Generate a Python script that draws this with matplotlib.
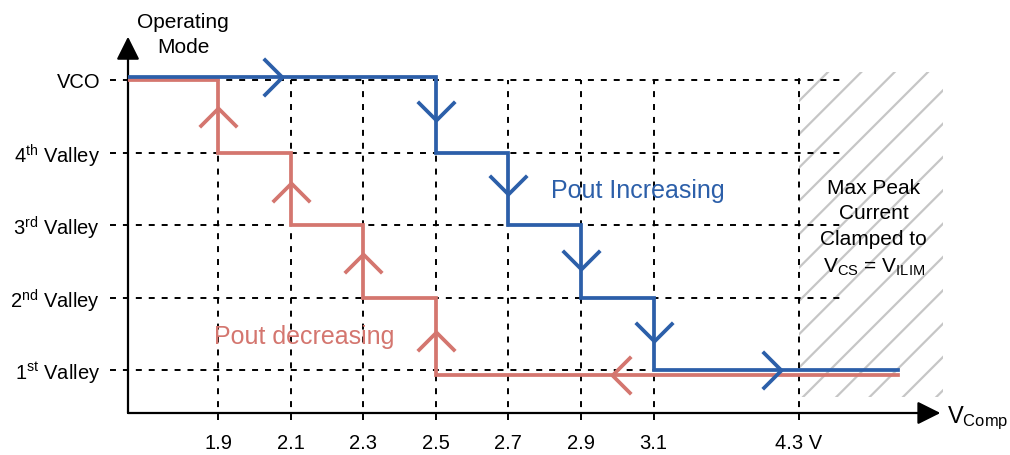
import matplotlib
matplotlib.use("Agg")
import matplotlib.pyplot as plt
from matplotlib.path import Path
from matplotlib.patches import Rectangle

plt.rcParams["font.family"] = ["Liberation Sans", "DejaVu Sans"]
plt.rcParams["mathtext.fontset"] = "custom"
plt.rcParams["mathtext.rm"] = "Liberation Sans"
plt.rcParams["mathtext.it"] = "Liberation Sans:italic"
plt.rcParams["mathtext.bf"] = "Liberation Sans:bold"
plt.rcParams["hatch.linewidth"] = 1.6
plt.rcParams["lines.scale_dashes"] = False

MODE_LABELS = [
    r"1$^{\mathrm{st}}$ Valley",
    r"2$^{\mathrm{nd}}$ Valley",
    r"3$^{\mathrm{rd}}$ Valley",
    r"4$^{\mathrm{th}}$ Valley",
    "VCO",
]
VCOMP_TICKS = [1.9, 2.1, 2.3, 2.5, 2.7, 2.9, 3.1, 4.3]
VCOMP_LABELS = ["1.9", "2.1", "2.3", "2.5", "2.7", "2.9", "3.1", "4.3 V"]
CLAMP_V = 4.3
# Vcomp at which the mode changes, and the mode reached (left to right)
INC_SWITCH_V = [2.5, 2.7, 2.9, 3.1]   # Pout increasing
DEC_SWITCH_V = [1.9, 2.1, 2.3, 2.5]   # Pout decreasing
MODE_AFTER_SWITCH = [4, 3, 2, 1]

BLUE = "#2c5fa9"
RED = "#d4766f"
GRAY_HATCH = "#c6c6c6"

X0, Y0 = -0.24, 0.41      # axis origin (data units)
X_END = 10.37             # where the step lines stop
TOP = len(MODE_LABELS)

CHEVRONS = {
    "r": Path([(-1, 1), (0, 0), (-1, -1)]),
    "l": Path([(1, 1), (0, 0), (1, -1)]),
    "u": Path([(-1, -1), (0, 0), (1, -1)]),
    "d": Path([(-1, 1), (0, 0), (1, 1)]),
}


def xpos(v):
    # broken axis: equal slots for 1.9..3.1, one empty slot before the clamp
    i = VCOMP_TICKS.index(v) + 1
    return i + 1 if v == CLAMP_V else i


def step_path(switch_v):
    xs, ys = [X0], [TOP]
    for v, m in zip(switch_v, MODE_AFTER_SWITCH):
        x = xpos(v)
        xs += [x, x]
        ys += [ys[-1], m]
    xs.append(X_END)
    ys.append(ys[-1])
    return xs, ys


def chevron(ax, p0, p1, frac, color):
    x = p0[0] + frac * (p1[0] - p0[0])
    y = p0[1] + frac * (p1[1] - p0[1])
    dx, dy = p1[0] - p0[0], p1[1] - p0[1]
    if dx > 0:
        key = "r"
    elif dx < 0:
        key = "l"
    elif dy > 0:
        key = "u"
    else:
        key = "d"
    ax.plot([x], [y], marker=CHEVRONS[key], ms=27, mfc="none", mec=color,
            mew=2.7, ls="none", zorder=6)


fig = plt.figure(figsize=(10.1, 4.55), dpi=100)
ax = fig.add_axes([128 / 1010, 42 / 455, 882 / 1010, 413 / 455])
ax.set_xlim(X0, X0 + 882 / 72.6)
ax.set_ylim(Y0, Y0 + 413 / 72.5)
for s in ax.spines.values():
    s.set_visible(False)

# hatched clamp region
ax.add_patch(Rectangle((xpos(CLAMP_V), 0.63), 1.99, 4.48, facecolor="none",
                       edgecolor=GRAY_HATCH, hatch="/", linewidth=0, zorder=1))

# dashed guide lines
dash = dict(color="black", lw=1.4, dashes=(4.3, 5), clip_on=False, zorder=2)
for lvl in range(1, TOP + 1):
    ax.plot([X0 - 0.25, 9.6], [lvl, lvl], **dash)
for v in VCOMP_TICKS:
    top = 5.11 if v == CLAMP_V else TOP
    ax.plot([xpos(v), xpos(v)], [0.31, top], **dash)

# Pout increasing (blue)
bx, by = step_path(INC_SWITCH_V)
by[0] += 0.045
by[1] += 0.045
ax.plot(bx, by, color=BLUE, lw=2.7, solid_joinstyle="miter", zorder=5)
bpts = list(zip(bx, by))
for seg, frac in {0: 0.5, 1: 0.57, 3: 0.57, 5: 0.6, 7: 0.6, 8: 0.52}.items():
    chevron(ax, bpts[seg], bpts[seg + 1], frac, BLUE)

# Pout decreasing (red), travelled right to left
rx, ry = step_path(DEC_SWITCH_V)
ry[-1] -= 0.07
ry[-2] -= 0.07
ax.plot(rx, ry, color=RED, lw=2.7, solid_joinstyle="miter", zorder=4)
rpts = list(zip(rx, ry))
for seg, frac in {1: 0.62, 3: 0.58, 5: 0.6, 7: 0.56, 8: 0.62}.items():
    chevron(ax, rpts[seg + 1], rpts[seg], frac, RED)

# axes with arrow heads
arrow = dict(arrowstyle="-|>,head_length=0.7,head_width=0.35", color="black",
             lw=1.6, mutation_scale=20, shrinkA=0, shrinkB=0)
ax.annotate("", xy=(X0, 5.6), xytext=(X0, Y0), arrowprops=arrow,
            annotation_clip=False)
ax.annotate("", xy=(10.95, Y0), xytext=(X0, Y0), arrowprops=arrow,
            annotation_clip=False)

ax.set_yticks(range(1, TOP + 1), MODE_LABELS)
ax.set_xticks([xpos(v) for v in VCOMP_TICKS], VCOMP_LABELS)
ax.tick_params(axis="y", length=0, pad=20, labelsize=14.5)
ax.tick_params(axis="x", length=0, pad=15, labelsize=14.5)

ax.text(0.52, 5.62, "Operating\nMode", ha="center", va="center",
        fontsize=15, linespacing=1.4)
ax.text(11.04, 0.34, r"$\mathrm{V_{Comp}}$", ha="left", va="center",
        fontsize=17)
ax.text(6.78, 3.47, "Pout Increasing", color=BLUE, ha="center",
        va="center", fontsize=18)
ax.text(2.18, 1.455, "Pout decreasing", color=RED, ha="center",
        va="center", fontsize=18)
ax.text(10.03, 2.96,
        "Max Peak\nCurrent\nClamped to\n"
        r"$\mathrm{V_{CS}}$ = $\mathrm{V_{ILIM}}$",
        ha="center", va="center", fontsize=15, linespacing=1.45, zorder=7)

fig.savefig("out.png", dpi=100)
